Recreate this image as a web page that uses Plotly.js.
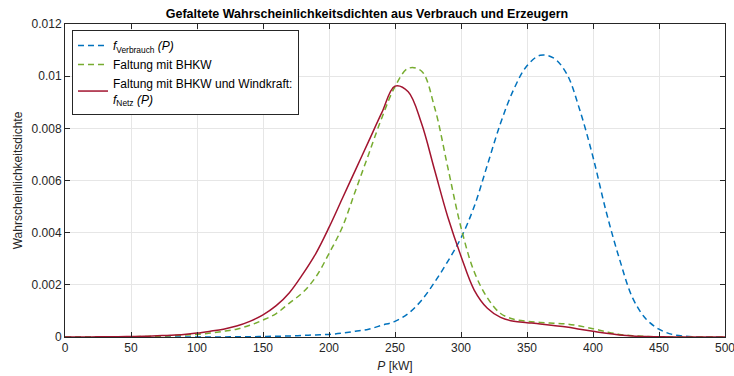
<!DOCTYPE html>
<html><head><meta charset="utf-8">
<script src="https://cdn.plot.ly/plotly-3.0.1.min.js"></script>
<style>html,body{margin:0;padding:0;background:#fff}#c{width:734px;height:376px}</style>
</head><body><div id="c"></div>
<script>
const xP = [0, 10, 20, 30, 40, 50, 60, 70, 80, 90, 100, 110, 120, 130, 140, 150, 160, 170, 180, 190, 200, 210, 220, 230, 240, 250, 260, 270, 280, 290, 300, 310, 320, 330, 340, 350, 360, 370, 380, 390, 400, 410, 420, 430, 440, 450, 460, 470, 480, 490, 500];

const yVerbrauch = [0, 0, 0, 0, 0, 0, 0, 0, 0, 0, 0, 0, 0, 0.00001, 0.00001, 0.00002, 0.00003, 0.00004, 0.00006, 0.00008, 0.0001, 0.00015, 0.00022, 0.0003, 0.00045, 0.0006, 0.0009, 0.0014, 0.0021, 0.0029, 0.0038, 0.0050, 0.0066, 0.0082, 0.0095, 0.0104, 0.0108, 0.0107, 0.0101, 0.0087, 0.0069, 0.0048, 0.0030, 0.0015, 0.0007, 0.0003, 0.0001, 0.00003, 0, 0, 0];

const yBHKW = [0, 0, 0, 0, 0.00001, 0.00001, 0.00002, 0.00003, 0.00005, 0.00007, 0.0001, 0.00015, 0.00022, 0.0003, 0.00045, 0.00065, 0.0009, 0.0013, 0.0017, 0.0023, 0.0032, 0.0042, 0.0056, 0.0070, 0.0084, 0.0096, 0.0103, 0.0102, 0.0088, 0.0065, 0.0042, 0.0025, 0.0015, 0.0009, 0.00068, 0.0006, 0.00056, 0.00053, 0.0005, 0.00042, 0.00032, 0.0002, 0.0001, 0.00005, 0.00002, 0, 0, 0, 0, 0, 0];

const yNetz = [0, 0, 0, 0.00001, 0.00001, 0.00002, 0.00003, 0.00005, 0.00007, 0.0001, 0.00015, 0.00022, 0.0003, 0.00042, 0.0006, 0.00085, 0.0012, 0.0017, 0.0024, 0.0032, 0.0042, 0.0053, 0.0064, 0.0075, 0.0086, 0.00962, 0.0094, 0.0082, 0.0064, 0.0046, 0.0031, 0.0018, 0.0011, 0.00075, 0.0006, 0.00055, 0.0005, 0.00044, 0.00038, 0.0003, 0.00022, 0.00014, 0.00008, 0.00004, 0.00002, 0.00001, 0, 0, 0, 0, 0];

const xTicks = [0, 50, 100, 150, 200, 250, 300, 350, 400, 450, 500];
const yTicks = [0, 0.002, 0.004, 0.006, 0.008, 0.01, 0.012];
const yTickLabels = ['0', '0.002', '0.004', '0.006', '0.008', '0.01', '0.012'];

const names = ['<i>f</i><sub>Verbrauch</sub> <i>(P)</i>', 'Faltung mit BHKW', 'Faltung mit BHKW und Windkraft:<br><i>f</i><sub>Netz</sub> <i>(P)</i>'];

const traces = [
  {x: xP, y: yVerbrauch, name: names[0], mode: 'lines', line: {color: '#0072BD', width: 1.5, dash: '6px,4px', shape: 'spline', smoothing: 1}},
  {x: xP, y: yBHKW, name: names[1], mode: 'lines', line: {color: '#77AC30', width: 1.5, dash: '6px,4px', shape: 'spline', smoothing: 1}},
  {x: xP, y: yNetz, name: names[2], mode: 'lines', line: {color: '#A2142F', width: 1.5, shape: 'spline', smoothing: 1}}
];

const axFont = {family: 'Liberation Sans, Arial, sans-serif', size: 12, color: '#262626'};
const layout = {
  width: 734, height: 376,
  margin: {l: 65, r: 9, t: 24, b: 39},
  paper_bgcolor: '#fff', plot_bgcolor: '#fff',
  font: axFont,
  title: {text: '<b>Gefaltete Wahrscheinlichkeitsdichten aus Verbrauch und Erzeugern</b>', font: {family: 'Liberation Sans, Arial, sans-serif', size: 12.5, color: '#000'}, x: 0.5, xanchor: 'center', y: 0.965, yanchor: 'middle'},
  xaxis: {range: [0, 500], tickvals: xTicks, ticks: 'inside', ticklen: 5, tickcolor: '#262626', showline: true, linecolor: '#262626', linewidth: 1, mirror: 'ticks', showgrid: true, gridcolor: '#e6e6e6', zeroline: false, tickfont: axFont, ticklabeloverflow: 'allow', title: {text: '<i>P</i> [kW]', font: axFont, standoff: 7}},
  yaxis: {range: [0, 0.012], tickvals: yTicks, ticktext: yTickLabels, ticks: 'inside', ticklen: 5, tickcolor: '#262626', showline: true, linecolor: '#262626', linewidth: 1, mirror: 'ticks', showgrid: true, gridcolor: '#e6e6e6', zeroline: false, tickfont: axFont, title: {text: 'Wahrscheinlichkeitsdichte', font: axFont, standoff: 6}},
  legend: {x: 0.0106, y: 0.981, xanchor: 'left', yanchor: 'top', bgcolor: '#fff', bordercolor: '#262626', borderwidth: 1, font: {family: 'Liberation Sans, Arial, sans-serif', size: 12, color: '#000'}, tracegroupgap: 0},
  showlegend: true
};
Plotly.newPlot('c', traces, layout, {staticPlot: true});
</script></body></html>
